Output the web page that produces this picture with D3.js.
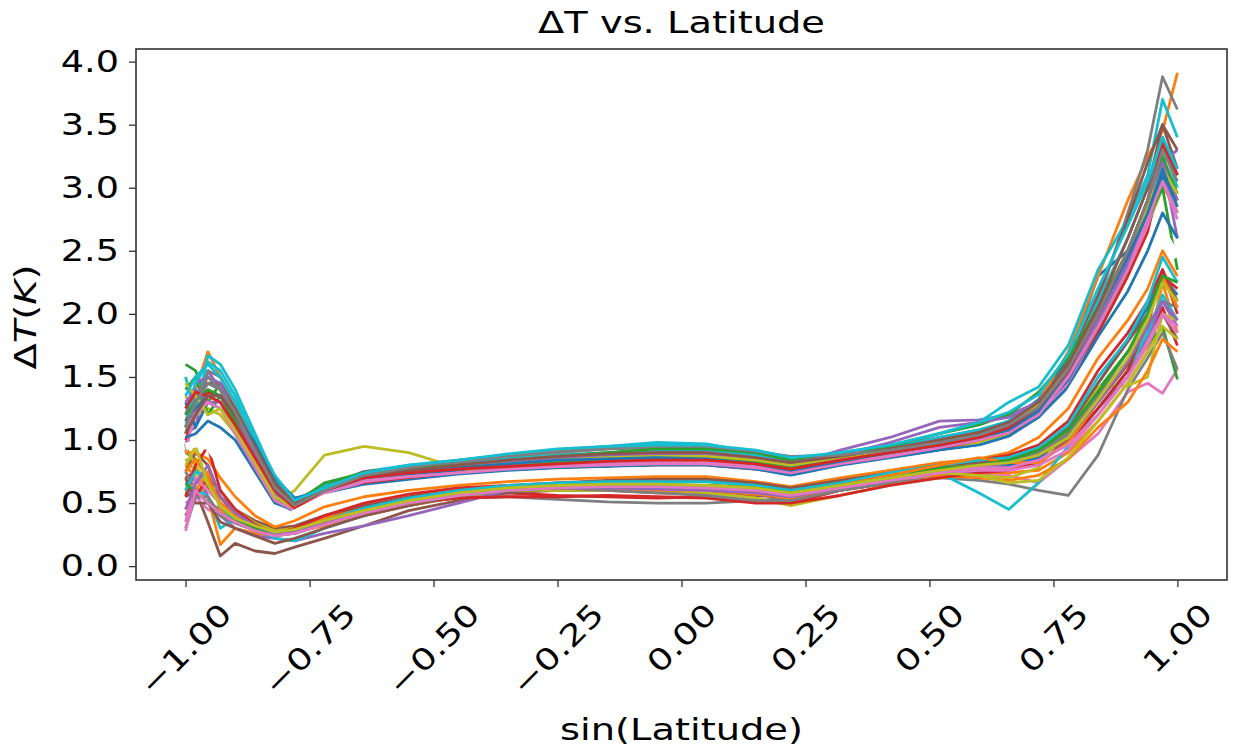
<!DOCTYPE html>
<html>
<head>
<meta charset="utf-8">
<script src="https://cdn.jsdelivr.net/npm/d3@7"></script>
<style>
body { margin: 0; background: #fff; }
text { font-family: "DejaVu Sans", sans-serif; fill: #000; }
</style>
</head>
<body>
<script>
var w = 1233;
var h = 750;
var margin = { left: 136, right: 6, top: 49, bottom: 170 };

// sin(latitude) grid
var sinLat = [-1.0, -0.98, -0.955, -0.93, -0.90, -0.86, -0.82, -0.78, -0.72, -0.64, -0.55,
    -0.45, -0.35, -0.25, -0.15, -0.05, 0.05, 0.15, 0.22, 0.32, 0.42,
    0.52, 0.60, 0.66, 0.72, 0.78, 0.84, 0.90, 0.94, 0.97, 1.0];

// one array of dT per model run
var runs = [
    [1.25,1.35,1.45,1.4,1.2,0.9,0.6, 0.48,0.6,0.7,0.72,0.76,0.8,0.83,0.86,0.88, 0.88,0.84,0.79,0.85,0.92,0.99,1.05,1.15,1.32, 1.65,2.3,2.5,2.9,3.4,3.1],
    [1.15,1.4,1.7,1.5,1.3,1.0,0.7, 0.52,0.64,0.74,0.76,0.78,0.82,0.85,0.87,0.88, 0.87,0.83,0.79,0.85,0.9,0.98,1.05,1.14,1.3, 1.7,2.3,2.9,3.25,3.45,3.91],
    [1.6,1.55,1.3,1.45,1.25,0.95,0.6, 0.46,0.6,0.72,0.75,0.77,0.8,0.82,0.83,0.84, 0.84,0.8,0.76,0.82,0.88,0.95,1.0,1.08,1.22, 1.5,1.95,2.35,2.7,3.1,2.8],
    [0.7,0.75,0.62,0.5,0.4,0.3,0.26, 0.27,0.34,0.44,0.52,0.57,0.58,0.56,0.55,0.54, 0.55,0.52,0.5,0.6,0.66,0.72,0.76,0.8,0.88, 1.05,1.3,1.6,1.8,2.05,1.75],
    [1.05,1.1,1.55,1.4,1.15,0.85,0.55, 0.42,0.56,0.66,0.7,0.74,0.78,0.81,0.83,0.85, 0.86,0.83,0.8,0.92,1.02,1.15,1.16,1.2,1.3, 1.55,1.95,2.4,2.8,3.2,2.6],
    [0.55,0.6,0.35,0.08,0.18,0.12,0.1, 0.15,0.22,0.32,0.44,0.52,0.58,0.6,0.6,0.58, 0.58,0.56,0.54,0.6,0.66,0.72,0.74,0.78,0.84, 1.0,1.25,1.55,1.75,2.0,1.8],
    [0.5,0.55,0.45,0.4,0.35,0.3,0.27, 0.28,0.36,0.45,0.52,0.58,0.62,0.64,0.63,0.62, 0.62,0.6,0.57,0.62,0.68,0.72,0.74,0.72,0.66, 0.85,1.05,1.38,1.45,1.37,1.56],
    [0.95,1.3,1.55,1.5,1.3,1.0,0.66, 0.5,0.62,0.72,0.78,0.83,0.88,0.9,0.93,0.95, 0.94,0.9,0.86,0.87,0.9,0.96,1.02,1.1,1.25, 1.55,2.1,2.8,3.3,3.88,3.62],
    [1.35,1.2,1.25,1.2,1.05,0.75,0.5, 0.6,0.88,0.95,0.9,0.78,0.72,0.76,0.8,0.82, 0.83,0.8,0.78,0.84,0.88,0.94,0.98,1.05,1.2, 1.45,1.85,2.3,2.7,3.0,2.85],
    [1.5,1.2,1.67,1.6,1.4,1.05,0.7, 0.52,0.64,0.75,0.8,0.84,0.88,0.92,0.95,0.98, 0.97,0.9,0.85,0.9,0.96,1.05,1.14,1.3,1.42, 1.75,2.35,2.75,3.1,3.7,3.4],
    [0.65,0.7,0.6,0.5,0.38,0.3,0.25, 0.26,0.33,0.4,0.48,0.55,0.6,0.63,0.64,0.64, 0.64,0.62,0.6,0.64,0.7,0.76,0.78,0.8,0.86, 1.05,1.45,1.8,2.05,2.3,2.15],
    [0.8,0.7,0.55,0.17,0.3,0.26,0.24, 0.27,0.32,0.4,0.48,0.55,0.6,0.62,0.62,0.63, 0.64,0.62,0.6,0.64,0.72,0.76,0.74,0.74,0.76, 0.9,1.15,1.45,1.7,2.25,1.85],
    [0.9,0.85,0.7,0.55,0.42,0.33,0.28, 0.3,0.36,0.44,0.52,0.58,0.62,0.65,0.66,0.66, 0.67,0.64,0.6,0.66,0.72,0.78,0.8,0.82,0.9, 1.08,1.4,1.7,1.75,1.9,1.48],
    [1.0,1.2,1.38,1.35,1.15,0.9,0.62, 0.46,0.56,0.66,0.7,0.73,0.77,0.8,0.8,0.8, 0.8,0.77,0.73,0.8,0.86,0.93,1.0,1.06,1.18, 1.45,1.85,2.3,2.65,3.15,2.9],
    [0.6,0.8,0.55,0.4,0.3,0.24,0.22, 0.2,0.26,0.32,0.4,0.5,0.6,0.64,0.65,0.64, 0.64,0.6,0.58,0.64,0.7,0.74,0.74,0.76,0.84, 0.98,1.25,1.5,1.8,2.1,1.9],
    [1.1,1.3,1.45,1.45,1.25,0.95,0.65, 0.5,0.62,0.75,0.78,0.8,0.84,0.86,0.88,0.9, 0.9,0.86,0.82,0.87,0.93,0.99,1.04,1.12,1.28, 1.62,2.15,2.75,3.2,3.5,3.15],
    [0.9,1.25,1.35,1.3,1.1,0.8,0.55, 0.44,0.56,0.67,0.71,0.74,0.77,0.8,0.81,0.82, 0.82,0.79,0.75,0.82,0.88,0.95,1.0,1.08,1.2, 1.45,1.9,2.35,2.7,3.05,2.8],
    [0.75,0.6,0.5,0.45,0.38,0.32,0.28, 0.3,0.36,0.44,0.5,0.54,0.55,0.53,0.51,0.5, 0.5,0.52,0.54,0.6,0.66,0.7,0.68,0.65,0.6, 0.56,0.88,1.4,1.65,1.85,1.56],
    [0.85,0.75,0.6,0.55,0.4,0.32,0.28, 0.3,0.36,0.45,0.52,0.56,0.6,0.6,0.6,0.6, 0.58,0.54,0.48,0.56,0.64,0.7,0.72,0.7,0.78, 1.1,1.42,1.43,1.5,2.0,1.95],
    [0.58,0.62,0.55,0.3,0.38,0.3,0.22, 0.2,0.3,0.4,0.5,0.56,0.6,0.62,0.62,0.62, 0.62,0.6,0.56,0.64,0.72,0.74,0.58,0.45,0.66, 0.95,1.25,1.55,1.85,2.15,1.95],
    [1.3,1.1,1.3,1.25,1.1,0.85,0.58, 0.47,0.6,0.7,0.74,0.78,0.82,0.85,0.86,0.86, 0.85,0.82,0.78,0.84,0.9,0.97,1.03,1.1,1.22, 1.48,1.9,2.35,2.8,3.1,2.9],
    [0.45,0.6,0.75,0.45,0.35,0.3,0.27, 0.3,0.38,0.47,0.54,0.58,0.6,0.62,0.6,0.6, 0.6,0.57,0.54,0.62,0.7,0.72,0.7,0.68,0.72, 0.85,1.1,1.3,1.55,1.8,1.7],
    [1.4,1.5,1.2,1.35,1.2,0.92,0.62, 0.46,0.62,0.74,0.76,0.78,0.8,0.82,0.84,0.86, 0.86,0.82,0.78,0.84,0.9,0.96,1.02,1.1,1.22, 1.5,1.9,2.4,2.75,3.0,2.35],
    [0.4,0.55,0.7,0.55,0.4,0.32,0.28, 0.28,0.34,0.42,0.5,0.54,0.55,0.55,0.56,0.55, 0.54,0.5,0.5,0.56,0.64,0.7,0.74,0.76,0.82, 0.98,1.25,1.55,1.95,2.3,2.2],
    [1.2,1.45,1.5,1.45,1.2,0.88,0.58, 0.43,0.58,0.7,0.74,0.78,0.83,0.86,0.88,0.89, 0.89,0.85,0.8,0.86,0.94,1.02,1.08,1.14,1.25, 1.5,1.95,2.4,2.8,3.2,3.3],
    [0.75,0.9,0.8,0.55,0.45,0.36,0.3, 0.32,0.4,0.48,0.55,0.6,0.62,0.64,0.64,0.63, 0.63,0.6,0.58,0.64,0.7,0.76,0.8,0.82,0.88, 1.02,1.3,1.6,1.9,2.35,2.1],
    [0.35,0.7,0.6,0.5,0.38,0.3,0.25, 0.27,0.34,0.42,0.5,0.56,0.6,0.63,0.64,0.63, 0.62,0.6,0.57,0.62,0.68,0.74,0.76,0.76,0.8, 0.92,1.2,1.5,1.75,2.0,1.85],
    [1.05,1.35,1.5,1.4,1.2,0.95,0.7, 0.52,0.6,0.72,0.78,0.82,0.86,0.9,0.93,0.94, 0.93,0.89,0.85,0.86,0.9,0.96,1.02,1.1,1.22, 1.5,1.95,2.45,2.9,3.3,3.1],
    [0.95,0.8,0.65,0.6,0.45,0.34,0.28, 0.3,0.36,0.44,0.52,0.58,0.62,0.64,0.64,0.64, 0.62,0.6,0.56,0.62,0.68,0.74,0.72,0.66,0.68, 0.86,1.15,1.45,1.7,1.9,1.8],
    [1.1,1.45,1.62,1.55,1.35,1.0,0.68, 0.5,0.6,0.72,0.76,0.8,0.85,0.88,0.9,0.92, 0.92,0.88,0.84,0.88,0.94,1.02,1.08,1.15,1.3, 1.6,2.1,2.6,3.0,3.35,3.0],
    [1.02,1.05,1.15,1.1,1.0,0.75,0.5, 0.44,0.56,0.64,0.68,0.72,0.75,0.78,0.79,0.8, 0.8,0.77,0.72,0.79,0.85,0.92,0.96,1.03,1.18, 1.42,1.82,2.18,2.5,2.8,2.6],
    [0.9,0.9,0.85,0.7,0.55,0.4,0.31, 0.36,0.47,0.55,0.6,0.64,0.67,0.69,0.7,0.71, 0.71,0.67,0.63,0.7,0.76,0.82,0.85,0.9,1.02, 1.25,1.65,1.95,2.2,2.5,2.3],
    [1.2,1.3,1.4,1.35,1.15,0.8,0.52, 0.5,0.66,0.74,0.77,0.8,0.84,0.87,0.9,0.93, 0.93,0.9,0.84,0.88,0.95,1.05,1.12,1.2,1.38, 1.65,2.05,2.5,2.9,3.25,2.95],
    [0.55,0.8,0.95,0.6,0.45,0.33,0.26, 0.3,0.4,0.5,0.57,0.62,0.64,0.66,0.67,0.68, 0.68,0.64,0.6,0.67,0.73,0.8,0.84,0.88,0.96, 1.15,1.55,1.85,2.1,2.35,2.0],
    [1.3,1.4,1.3,1.3,1.1,0.85,0.6, 0.46,0.6,0.7,0.75,0.8,0.84,0.86,0.88,0.9, 0.9,0.86,0.82,0.88,0.98,1.1,1.14,1.18,1.28, 1.52,1.95,2.45,2.85,3.2,2.9],
    [0.7,0.5,0.5,0.35,0.3,0.24,0.18, 0.22,0.3,0.4,0.48,0.56,0.62,0.66,0.68,0.69, 0.69,0.66,0.62,0.68,0.74,0.8,0.82,0.86,0.94, 1.1,1.45,1.78,2.0,2.3,2.05],
    [1.1,1.2,1.3,1.25,1.05,0.78,0.52, 0.44,0.58,0.68,0.71,0.74,0.77,0.79,0.8,0.81, 0.81,0.78,0.74,0.81,0.87,0.94,1.0,1.06,1.2, 1.5,1.9,2.35,2.75,3.05,2.75],
    [0.3,0.55,0.55,0.4,0.34,0.28,0.24, 0.26,0.34,0.44,0.52,0.58,0.62,0.62,0.6,0.58, 0.56,0.52,0.52,0.6,0.68,0.75,0.78,0.82,0.9, 1.05,1.35,1.7,1.9,2.1,2.05],
    [1.45,1.35,1.2,1.25,1.08,0.82,0.55, 0.46,0.6,0.72,0.75,0.78,0.81,0.84,0.86,0.87, 0.87,0.84,0.8,0.86,0.92,0.98,1.04,1.12,1.28, 1.58,2.0,2.5,2.85,3.15,2.95],
    [0.6,0.75,0.7,0.48,0.36,0.3,0.26, 0.28,0.36,0.46,0.54,0.6,0.64,0.66,0.67,0.67, 0.67,0.64,0.6,0.66,0.74,0.8,0.84,0.86,0.94, 1.12,1.5,1.8,2.1,2.45,2.25],
    [1.15,1.25,1.35,1.35,1.2,0.98,0.7, 0.54,0.6,0.7,0.74,0.78,0.81,0.84,0.85,0.86, 0.85,0.81,0.76,0.83,0.9,0.96,1.02,1.08,1.23, 1.55,2.0,2.45,2.8,3.15,2.85],
    [0.75,0.85,0.7,0.5,0.4,0.32,0.27, 0.29,0.36,0.44,0.51,0.57,0.61,0.63,0.64,0.64, 0.63,0.6,0.57,0.64,0.72,0.8,0.86,0.82,0.82, 0.98,1.3,1.62,1.95,2.3,2.05],
    [0.65,0.6,0.5,0.42,0.36,0.3,0.25, 0.26,0.34,0.43,0.5,0.56,0.6,0.62,0.63,0.64, 0.64,0.62,0.58,0.64,0.7,0.76,0.8,0.84,0.92, 1.08,1.38,1.7,2.0,2.3,2.25],
    [1.25,1.38,1.35,1.3,1.12,0.86,0.6, 0.46,0.6,0.7,0.74,0.77,0.79,0.81,0.83,0.84, 0.84,0.81,0.77,0.84,0.9,0.96,1.02,1.1,1.26, 1.55,2.0,2.5,2.9,3.35,3.1],
    [0.45,0.65,0.8,0.55,0.42,0.32,0.26, 0.28,0.35,0.43,0.51,0.57,0.6,0.62,0.62,0.61, 0.6,0.58,0.55,0.62,0.68,0.74,0.78,0.82,0.88, 1.02,1.3,1.62,1.9,2.1,1.95],
    [1.05,1.2,1.35,1.35,1.2,0.95,0.66, 0.5,0.6,0.72,0.76,0.8,0.84,0.87,0.89,0.9, 0.9,0.86,0.82,0.87,0.93,1.0,1.06,1.14,1.3, 1.6,2.05,2.6,3.0,3.5,3.3],
    [0.28,0.6,0.5,0.42,0.35,0.28,0.24, 0.26,0.33,0.42,0.5,0.56,0.6,0.62,0.63,0.63, 0.62,0.6,0.56,0.62,0.68,0.74,0.78,0.78,0.84, 0.96,1.2,1.5,1.78,2.0,1.9],
    [1.1,1.3,1.45,1.4,1.22,0.92,0.62, 0.48,0.6,0.72,0.78,0.84,0.88,0.91,0.93,0.95, 0.95,0.91,0.87,0.88,0.92,0.98,1.04,1.12,1.26, 1.56,2.0,2.5,2.9,3.3,3.05],
    [0.8,0.95,0.65,0.48,0.38,0.32,0.27, 0.29,0.36,0.44,0.52,0.58,0.62,0.64,0.65,0.65, 0.64,0.62,0.58,0.64,0.7,0.76,0.8,0.82,0.88, 1.02,1.32,1.65,1.95,2.25,2.1],
    [1.35,1.5,1.6,1.5,1.3,1.02,0.72, 0.52,0.62,0.74,0.8,0.84,0.89,0.93,0.95,0.96, 0.96,0.92,0.86,0.9,0.96,1.05,1.14,1.22,1.36, 1.68,2.2,2.7,3.05,3.4,3.15]
];

// ensemble mean, drawn in white on top
var meanDT = [0.95,0.97,0.95,0.82,0.68,0.46,0.36,0.42,0.54,0.61,0.65,0.69,0.72,0.74,0.75,0.76,0.76,0.72,0.68,0.76,0.82,0.88,0.92,0.98,1.12,1.36,1.74,2.10,2.37,2.65,2.45];

var xTicks = [-1.0, -0.75, -0.5, -0.25, 0.0, 0.25, 0.5, 0.75, 1.0];
var yTicks = [0.0, 0.5, 1.0, 1.5, 2.0, 2.5, 3.0, 3.5, 4.0];
var colors = ["#1f77b4", "#ff7f0e", "#2ca02c", "#d62728", "#9467bd",
    "#8c564b", "#e377c2", "#7f7f7f", "#bcbd22", "#17becf"];

var fs = 30;
var stretch = 1.28; // glyphs in the picture are wide along the baseline

var svg = d3.select("body")
    .append("svg")
    .attr("width", w)
    .attr("height", h);

svg.append("rect").attr("width", w).attr("height", h).attr("fill", "#fff");

var x = d3.scaleLinear()
    .domain([-1.1, 1.1])
    .range([margin.left, w - margin.right]);

var y = d3.scaleLinear()
    .domain([-0.11, 4.10])
    .range([h - margin.bottom, margin.top]);

svg.append("clipPath")
    .attr("id", "clip")
    .append("rect")
    .attr("x", margin.left)
    .attr("y", margin.top)
    .attr("width", w - margin.left - margin.right)
    .attr("height", h - margin.top - margin.bottom);

var line = d3.line()
    .defined(d => d[1] != null)
    .x(d => x(d[0]))
    .y(d => y(d[1]));

var plot = svg.append("g").attr("clip-path", "url(#clip)");

plot.selectAll("path.run")
    .data(runs)
    .enter()
    .append("path")
    .attr("class", "run")
    .attr("d", r => line(sinLat.map((s, i) => [s, r[i]])))
    .attr("fill", "none")
    .attr("stroke", (r, i) => colors[i % 10])
    .attr("stroke-width", 2.8)
    .attr("stroke-linejoin", "round");

plot.append("path")
    .attr("d", line(sinLat.map((s, i) => [s, meanDT[i]])))
    .attr("fill", "none")
    .attr("stroke", "#fff")
    .attr("stroke-width", 7)
    .attr("stroke-linejoin", "round");

// frame
svg.append("rect")
    .attr("x", margin.left)
    .attr("y", margin.top)
    .attr("width", w - margin.left - margin.right)
    .attr("height", h - margin.top - margin.bottom)
    .attr("fill", "none")
    .attr("stroke", "#333")
    .attr("stroke-width", 1.6);

// y axis
var yAxis = svg.append("g")
    .attr("transform", "translate(" + margin.left + ",0)")
    .call(d3.axisLeft(y).tickValues(yTicks).tickSize(7).tickFormat(d3.format(".1f")));
yAxis.select(".domain").remove();
yAxis.selectAll("line").attr("stroke", "#333").attr("stroke-width", 1.3);
yAxis.selectAll("text")
    .attr("font-size", fs)
    .attr("font-family", "DejaVu Sans")
    .attr("fill", "#000")
    .attr("x", 0)
    .attr("transform", "translate(-17,0) scale(1.22,1)");

// x axis
var xAxis = svg.append("g")
    .attr("transform", "translate(0," + (h - margin.bottom) + ")")
    .call(d3.axisBottom(x).tickValues(xTicks).tickSize(7).tickFormat(d => d3.format(".2f")(d).replace("-", "\u2212")));
xAxis.select(".domain").remove();
xAxis.selectAll("line").attr("stroke", "#333").attr("stroke-width", 1.3);
xAxis.selectAll("text")
    .attr("font-size", fs)
    .attr("font-family", "DejaVu Sans")
    .attr("fill", "#000")
    .attr("text-anchor", "middle")
    .attr("dy", "0.35em")
    .attr("y", 0)
    .attr("transform", "rotate(-45) scale(1.25,1)");
// move each rotated label so its box is centred on the tick, just below it
xAxis.selectAll(".tick").each(function (d) {
    var txt = this.querySelector("text");
    var r = txt.getBoundingClientRect();
    var dx = x(d) - (r.left + r.right) / 2;
    var dy = (h - margin.bottom + 16) - r.top;
    d3.select(txt).attr("transform", "translate(" + dx + "," + dy + ") rotate(-45) scale(1.25,1)");
});

var cx = (margin.left + w - margin.right) / 2;

// titles
svg.append("text")
    .attr("transform", "translate(" + cx + ",33) scale(" + stretch + ",1)")
    .attr("text-anchor", "middle")
    .attr("font-size", fs)
    .text("\u0394T vs. Latitude");

svg.append("text")
    .attr("transform", "translate(" + cx + ",740) scale(" + stretch + ",1)")
    .attr("text-anchor", "middle")
    .attr("font-size", fs)
    .text("sin(Latitude)");

var yl = svg.append("text")
    .attr("transform", "translate(36,317) rotate(-90) scale(" + stretch + ",1)")
    .attr("text-anchor", "middle")
    .attr("font-size", fs);
yl.append("tspan").text("\u0394");
yl.append("tspan").attr("font-style", "italic").text("T");
yl.append("tspan").text("(");
yl.append("tspan").attr("font-style", "italic").text("K");
yl.append("tspan").text(")");
</script>
</body>
</html>
